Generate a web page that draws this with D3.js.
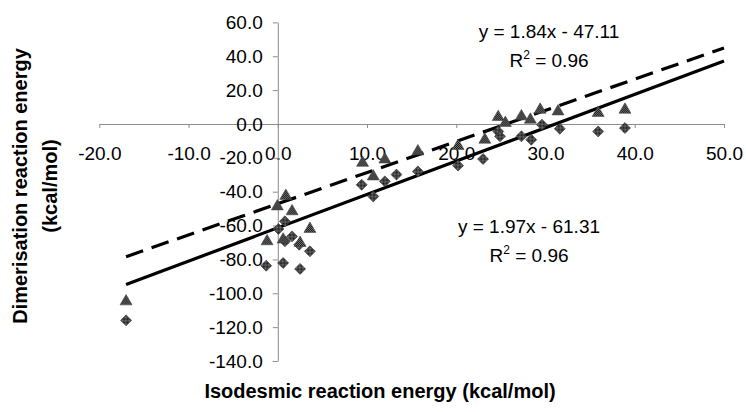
<!DOCTYPE html>
<html>
<head>
<meta charset="utf-8">
<script src="https://cdn.jsdelivr.net/npm/d3@7"></script>
<style>
  body { margin: 0; background: #fff; }
  text { font-family: "Liberation Sans", Arial, sans-serif; }
  .axis path, .axis line { stroke: #8c8c8c; }
</style>
</head>
<body>
<svg id="chart" width="746" height="412"></svg>
<script>
'use strict';

// triangles (dashed fit) and diamonds (solid fit), [isodesmic, dimerisation]
const triangles = [
  [-17.0, -104.8], [-1.2, -69.3], [-0.05, -48.7], [0.6, -68.3], [0.9, -42.5],
  [1.6, -51.6], [2.5, -70.3], [3.6, -62.0], [9.5, -23.0], [10.7, -31.0],
  [12.0, -21.0], [15.7, -16.2], [20.2, -13.0], [23.2, -9.3], [24.7, 4.1],
  [25.5, 0.6], [27.3, 4.5], [28.3, 2.5], [29.4, 8.4], [31.4, 7.4],
  [35.9, 6.5], [38.9, 8.4]
];
const diamonds = [
  [-17.0, -116.0], [-1.3, -83.7], [0.07, -62.0], [0.6, -82.1], [0.8, -57.5],
  [0.8, -69.3], [1.6, -66.4], [2.4, -71.3], [2.5, -85.6], [3.6, -75.2],
  [9.4, -35.9], [10.7, -42.8], [12.0, -33.9], [13.3, -29.9], [15.7, -28.0],
  [20.2, -24.6], [23.0, -20.7], [24.7, -4.4], [24.9, -7.3], [27.3, -7.3],
  [28.4, -9.3], [29.6, -0.4], [31.6, -2.8], [35.9, -4.4], [38.9, -2.4]
];
const dashedFit = {slope: 1.84, intercept: -47.11, r2: '0.96'};
const solidFit = {slope: 1.97, intercept: -61.31, r2: '0.96'};
const fitRange = [-17, 50];
const xTicks = [-20, -10, 0, 10, 20, 30, 40, 50];
const yTicks = [60, 40, 20, 0, -20, -40, -60, -80, -100, -120, -140];

const svg = d3.select('#chart');
const fmt = d => d.toFixed(1);

const x = d3.scaleLinear().domain([-20, 50]).range([99.3, 724]);
const y = d3.scaleLinear().domain([60, -140]).range([22.4, 361]);

// dithered marker fill
const defs = svg.append('defs');
const pat = defs.append('pattern')
  .attr('id', 'dither')
  .attr('width', 2).attr('height', 2)
  .attr('patternUnits', 'userSpaceOnUse');
pat.append('rect').attr('width', 2).attr('height', 2).attr('fill', '#7a7a7a');
pat.append('rect').attr('width', 1).attr('height', 1).attr('fill', '#111');
pat.append('rect').attr('x', 1).attr('y', 1).attr('width', 1).attr('height', 1).attr('fill', '#111');

// x axis through y = 0
const xAxis = svg.append('g')
  .attr('class', 'axis')
  .attr('transform', `translate(0,${y(0)})`)
  .call(d3.axisBottom(x).tickValues(xTicks).tickFormat(fmt).tickSize(4).tickSizeOuter(0));
xAxis.selectAll('text')
  .attr('dy', null)
  .attr('y', 36)
  .attr('font-size', 19)
  .attr('fill', '#000');

// y axis through x = 0
const yAxis = svg.append('g')
  .attr('class', 'axis')
  .attr('transform', `translate(${x(0)},0)`)
  .call(d3.axisLeft(y).tickValues(yTicks).tickFormat(fmt).tickSize(5).tickPadding(10).tickSizeOuter(0));
yAxis.selectAll('text')
  .attr('font-size', 19)
  .attr('fill', '#000');
svg.selectAll('.axis .domain').attr('stroke', '#8c8c8c');

// trend lines
function fitLine(f) {
  return fitRange.map(v => [v, f.slope * v + f.intercept]);
}
const line = d3.line().x(d => x(d[0])).y(d => y(d[1]));

svg.append('path')
  .attr('d', line(fitLine(dashedFit)))
  .attr('fill', 'none')
  .attr('stroke', '#000')
  .attr('stroke-width', 3.2)
  .attr('stroke-dasharray', '18,9');

svg.append('path')
  .attr('d', line(fitLine(solidFit)))
  .attr('fill', 'none')
  .attr('stroke', '#000')
  .attr('stroke-width', 3.2);

// markers
const triSym = d3.symbol().type(d3.symbolTriangle).size(62);
const diaSym = d3.symbol().type(d3.symbolSquare).size(60);

svg.append('g').selectAll('path')
  .data(diamonds)
  .join('path')
  .attr('d', diaSym)
  .attr('transform', d => `translate(${x(d[0])},${y(d[1])}) rotate(45)`)
  .attr('fill', 'url(#dither)')
  .attr('stroke', '#333')
  .attr('stroke-width', 0.6);

svg.append('g').selectAll('path')
  .data(triangles)
  .join('path')
  .attr('d', triSym)
  .attr('transform', d => `translate(${x(d[0])},${y(d[1])})`)
  .attr('fill', 'url(#dither)')
  .attr('stroke', '#444')
  .attr('stroke-width', 0.6);

// equations
function equation(f, cx, cy) {
  const sign = f.intercept < 0 ? '-' : '+';
  svg.append('text')
    .attr('x', cx).attr('y', cy)
    .attr('text-anchor', 'middle')
    .attr('font-size', 19)
    .text(`y = ${f.slope.toFixed(2)}x ${sign} ${Math.abs(f.intercept).toFixed(2)}`);
  const r = svg.append('text')
    .attr('x', cx).attr('y', cy + 29)
    .attr('text-anchor', 'middle')
    .attr('font-size', 19);
  r.append('tspan').text('R');
  r.append('tspan').attr('dy', -8).attr('font-size', 12).text('2');
  r.append('tspan').attr('dy', 8).text(` = ${f.r2}`);
}
equation(dashedFit, 549, 38);
equation(solidFit, 529, 233);

// axis titles
svg.append('text')
  .attr('x', 380).attr('y', 398)
  .attr('text-anchor', 'middle')
  .attr('font-size', 20)
  .attr('font-weight', 'bold')
  .text('Isodesmic reaction energy (kcal/mol)');

const yt = svg.append('text')
  .attr('transform', 'translate(27,186) rotate(-90)')
  .attr('text-anchor', 'middle')
  .attr('font-size', 20)
  .attr('font-weight', 'bold');
yt.append('tspan').attr('x', 0).attr('y', 0).text('Dimerisation reaction energy');
yt.append('tspan').attr('x', 0).attr('y', 30).text('(kcal/mol)');
</script>
</body>
</html>
